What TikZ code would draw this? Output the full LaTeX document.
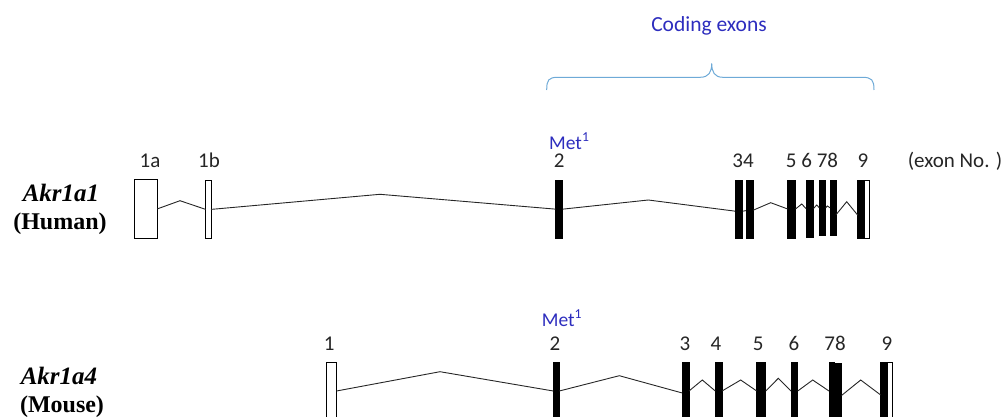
\documentclass[tikz,border=0pt]{standalone}
\usepackage{fontspec}
\setmainfont{Carlito}
\newfontfamily\tnr{Liberation Serif}
\definecolor{labblue}{RGB}{45,45,190}
\definecolor{braceblue}{RGB}{110,170,215}
\newcommand{\exonbox}[6]{\node[#2, minimum width={#4-#3}, minimum height={#6-#5}] (#1) at ({(#3+#4)/2},{(#5+#6)/2}) {};}
\tikzset{
  wex/.style={draw=black, fill=white, line width=0.9pt, inner sep=0pt, outer sep=0pt},
  bex/.style={draw=black, fill=black, line width=0.9pt, inner sep=0pt, outer sep=0pt},
  intron/.style={draw=black!85, line width=0.9pt},
  num/.style={anchor=base, inner sep=0pt, font=\fontsize{21}{23}\selectfont, text=black!85},
  met/.style={anchor=base west, inner sep=0pt, font=\fontsize{19.5}{21}\selectfont, text=labblue},
  gene/.style={anchor=base, inner sep=0pt, font=\tnr\bfseries\itshape\fontsize{25}{27}\selectfont},
  species/.style={anchor=base, inner sep=0pt, font=\tnr\bfseries\fontsize{24}{26}\selectfont},
  brace/.style={draw=braceblue, line width=1pt}
}
\begin{document}
\begin{tikzpicture}[x=1pt,y=-1pt]
\useasboundingbox (0,0) rectangle (1003,417);
\clip (0,0) rectangle (1003,417);

% ---------- brace ----------
\node[anchor=base, inner sep=0pt, font=\fontsize{21.5}{23}\selectfont, text=labblue] (coding) at (709,32) {Coding exons};
\coordinate (bl) at (546.7,90);
\coordinate (br) at (874,90);
\draw[brace] (bl) .. controls (546.7,80) and (548.5,77.3) .. (558,77.3) -- (700,77.3)
  .. controls (709,77.3) and (711.7,72) .. (711.7,63.3)
  .. controls (711.7,72) and (714.5,77.3) .. (723,77.3) -- (862,77.3)
  .. controls (872,77.3) and (874,80) .. (br);

% ---------- Human ----------
\node[gene] (g1) at (61,201) {Akr1a1};
\node[species] (s1) at (60,229) {(Human)};

\exonbox{h1a}{wex}{134.3}{157.3}{179.5}{238.3}
\exonbox{h1b}{wex}{205.7}{211}{180.5}{238.3}
\exonbox{h2}{bex}{555.7}{562.7}{180}{238.3}
\exonbox{h3}{bex}{735}{742.7}{180}{238.3}
\exonbox{h4}{bex}{746}{753.3}{180}{238.3}
\exonbox{h5}{bex}{787.7}{795.5}{180}{238}
\exonbox{h6}{bex}{806}{813.5}{180}{237}
\exonbox{h7}{bex}{819.3}{825.7}{180}{235.5}
\exonbox{h8}{bex}{830}{836}{180}{235.5}
\exonbox{h9a}{bex}{857.7}{864}{180}{238.3}
\exonbox{h9b}{wex}{864}{869.3}{180}{238.3}

\draw[intron] (h1a.east) -- (180,200.7) -- (h1b.west);
\draw[intron] (h1b.east) -- (380,194.3) -- (h2.west);
\draw[intron] (h2.east) -- (648.3,200) -- ([yshift=-2pt]h3.west);
\draw[intron] ([yshift=-2pt]h3.east) -- ([yshift=-1.5pt]h4.west);
\draw[intron] ([yshift=-1pt]h4.east) -- (770.7,202.7) -- (h5.west);
\draw[intron] (h5.east) -- (801.7,204) -- (h6.west);
\draw[intron] (h6.east) -- (816.7,205) -- (h7.west);
\draw[intron] (h7.east) -- (827.3,206) -- (h8.west);
\draw[intron] ([yshift=-7pt]h8.east) -- (846.7,201.7) -- ([yshift=-6pt]h9a.west);

\node[num] (l1a) at (150,167) {1a};
\node[num] (l1b) at (209,167) {1b};
\node[num] (l2) at (559.2,167) {2};
\node[num] (l34) at (743,167) {34};
\node[num] (l5678) at (812,167) {5 6 78};
\node[num] (l9) at (863,167) {9};
\node[num] (lex) at (955,167) {(exon No. )};
\node[met] (met1) at (549,149) {Met\textsuperscript{1}};

% ---------- Mouse ----------
\node[gene] (g2) at (59,384) {Akr1a4};
\node[species] (s2) at (62,412) {(Mouse)};

\exonbox{m1}{wex}{326}{336.5}{362}{420}
\exonbox{m2}{bex}{553.3}{559.3}{362}{420}
\exonbox{m3}{bex}{682.3}{689}{362}{420}
\exonbox{m4}{bex}{715.3}{722}{362}{420}
\exonbox{m5}{bex}{756.7}{765.7}{362}{420}
\exonbox{m6}{bex}{791}{797.7}{362}{420}
\exonbox{m7}{bex}{829}{834.3}{362}{420}
\exonbox{m8}{bex}{835.7}{841.5}{363}{420}
\exonbox{m9a}{bex}{880.7}{887.3}{362}{420}
\exonbox{m9b}{wex}{887.3}{892.3}{362}{420}

\draw[intron] (m1.east) -- (440,371.7) -- (m2.west);
\draw[intron] (m2.east) -- (619.3,375.7) -- ([yshift=-2pt]m3.west);
\draw[intron] (m3.east) -- (702.3,380) -- (m4.west);
\draw[intron] (m4.east) -- (740.7,380) -- (m5.west);
\draw[intron] (m5.east) -- (778.3,378.3) -- (m6.west);
\draw[intron] (m6.east) -- (812.7,380) -- (m7.west);
\draw[intron] ([yshift=-4pt]m8.east) -- (860.7,380) -- ([yshift=-4pt]m9a.west);

\node[num] (k1) at (329.3,350) {1};
\node[num] (k2) at (555,350) {2};
\node[num] (k3) at (685,350) {3};
\node[num] (k4) at (716,350) {4};
\node[num] (k5) at (758.3,350) {5};
\node[num] (k6) at (794,350) {6};
\node[num] (k78) at (835,350) {78};
\node[num] (k9) at (887,350) {9};
\node[met] (met2) at (541.7,326) {Met\textsuperscript{1}};
\end{tikzpicture}
\end{document}
